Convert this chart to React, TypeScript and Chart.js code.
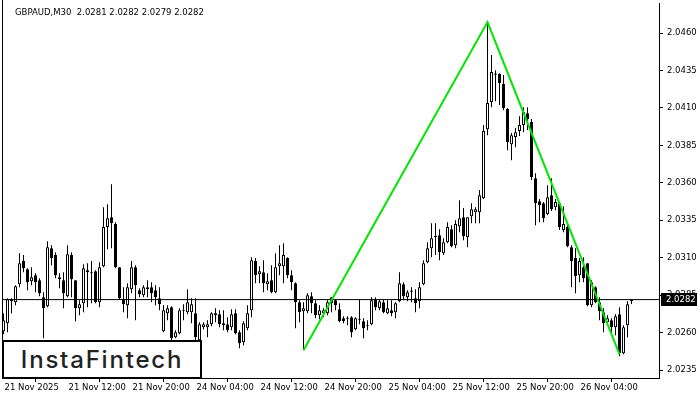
import { useEffect, useRef } from "react";
import { Chart, registerables } from "chart.js";

Chart.register(...registerables);

const symbolTitle = "GBPAUD,M30  2.0281 2.0282 2.0279 2.0282";
const logoText = "InstaFintech";

const xTickBars = [0, 16, 32, 48, 64, 80, 96, 112, 128, 144];
const xTickLabels = [
  "21 Nov 2025", "21 Nov 12:00", "21 Nov 20:00", "24 Nov 04:00", "24 Nov 12:00",
  "24 Nov 20:00", "25 Nov 04:00", "25 Nov 12:00", "25 Nov 20:00", "26 Nov 04:00",
];
const yTickValues = [2.0235, 2.026, 2.0285, 2.031, 2.0335, 2.036, 2.0385, 2.041, 2.0435, 2.046];

const opens = [
  2.02609, 2.02662, 2.02823, 2.02803, 2.02923, 2.03077, 2.03023, 2.02943, 2.02983, 2.0295,
  2.02836, 2.02776, 2.03163, 2.03117, 2.0297, 2.0295, 2.02843, 2.03117, 2.0295, 2.02763,
  2.02796, 2.03016, 2.02996, 2.0301, 2.02803, 2.03043, 2.03304, 2.0337, 2.03324, 2.03036,
  2.02823, 2.02783, 2.02889, 2.03036, 2.02883, 2.02849, 2.02903, 2.02903, 2.02883, 2.02829,
  2.02609, 2.02729, 2.02769, 2.02569, 2.02596, 2.02743, 2.02736, 2.02736, 2.02729, 2.02549,
  2.02636, 2.02636, 2.02656, 2.02729, 2.02722, 2.02662, 2.02656, 2.02636, 2.02729, 2.02602,
  2.02536, 2.02629, 2.02749, 2.03077, 2.0299, 2.03003, 2.02923, 2.0295, 2.02869, 2.03043,
  2.03043, 2.03097, 2.02983, 2.0293, 2.02803, 2.02743, 2.02743, 2.02843, 2.02796, 2.02716,
  2.02729, 2.02729, 2.02836, 2.02816, 2.02756, 2.02696, 2.02699, 2.02702, 2.02622, 2.02686,
  2.02676, 2.02649, 2.02656, 2.02823, 2.02763, 2.02803, 2.02729, 2.02749, 2.02736, 2.02809,
  2.02923, 2.02836, 2.02873, 2.02829, 2.02809, 2.02923, 2.0307, 2.03163, 2.03237, 2.0325,
  2.0313, 2.03203, 2.0329, 2.03183, 2.0331, 2.0337, 2.03237, 2.03377, 2.03404, 2.03404,
  2.03497, 2.03958, 2.04139, 2.04329, 2.04326, 2.04259, 2.04092, 2.03858, 2.03905, 2.03945,
  2.03985, 2.04065, 2.04005, 2.03631, 2.03477, 2.03464, 2.0339, 2.03517, 2.03437, 2.03464,
  2.03284, 2.03304, 2.0317, 2.03097, 2.02983, 2.03036, 2.03063, 2.02783, 2.02903, 2.02803,
  2.02736, 2.02669, 2.02682, 2.02636, 2.02722, 2.02462, 2.02649, 2.0281,
];
const highs = [
  2.02729, 2.02829, 2.02829, 2.02916, 2.0313, 2.03117, 2.0303, 2.03036, 2.02996, 2.02963,
  2.02869, 2.0321, 2.03183, 2.03137, 2.02996, 2.03003, 2.03183, 2.03137, 2.0295, 2.02816,
  2.03056, 2.03063, 2.03077, 2.03016, 2.0307, 2.03437, 2.03457, 2.03591, 2.03337, 2.03036,
  2.02903, 2.0293, 2.03077, 2.0305, 2.02896, 2.02916, 2.0295, 2.02936, 2.02916, 2.02903,
  2.02783, 2.02783, 2.02776, 2.02616, 2.02763, 2.02789, 2.02889, 2.02829, 2.02829, 2.02669,
  2.02669, 2.02682, 2.02736, 2.02763, 2.02749, 2.02749, 2.02702, 2.02756, 2.02756, 2.02616,
  2.02676, 2.02783, 2.03103, 2.03097, 2.03043, 2.03083, 2.02996, 2.0305, 2.0313, 2.03183,
  2.03197, 2.03103, 2.03016, 2.02936, 2.02816, 2.02803, 2.02863, 2.02869, 2.02816, 2.02783,
  2.02763, 2.02816, 2.02836, 2.02823, 2.02796, 2.02709, 2.02709, 2.02709, 2.02702, 2.02823,
  2.02696, 2.02682, 2.02836, 2.02836, 2.02823, 2.02823, 2.02816, 2.02816, 2.02803, 2.03003,
  2.02936, 2.02883, 2.02903, 2.02889, 2.02936, 2.03083, 2.03203, 2.0333, 2.0333, 2.0329,
  2.0323, 2.03337, 2.03317, 2.0335, 2.03484, 2.03431, 2.0337, 2.03464, 2.03437, 2.03551,
  2.03985, 2.04673, 2.04453, 2.04352, 2.04332, 2.04319, 2.04099, 2.03932, 2.03965, 2.04045,
  2.04105, 2.04105, 2.04025, 2.03664, 2.03491, 2.03471, 2.03584, 2.03631, 2.03491, 2.03471,
  2.03444, 2.03337, 2.03183, 2.03163, 2.03097, 2.03103, 2.03063, 2.0295, 2.0291, 2.02836,
  2.02763, 2.02716, 2.02696, 2.02722, 2.02769, 2.02649, 2.02809, 2.0282,
];
const lows = [
  2.02589, 2.02602, 2.02729, 2.02783, 2.02903, 2.03003, 2.02883, 2.02916, 2.02869, 2.02843,
  2.02562, 2.02769, 2.0305, 2.02963, 2.02896, 2.02763, 2.02836, 2.02836, 2.02676, 2.02716,
  2.02736, 2.02769, 2.02796, 2.02796, 2.02769, 2.03036, 2.03157, 2.03163, 2.0303, 2.02823,
  2.02736, 2.02696, 2.02863, 2.02682, 2.02836, 2.02836, 2.02836, 2.02803, 2.02783, 2.02749,
  2.02602, 2.02682, 2.02549, 2.02562, 2.02589, 2.02682, 2.02722, 2.02662, 2.02549, 2.02542,
  2.02622, 2.02569, 2.02642, 2.02669, 2.02636, 2.02616, 2.02602, 2.02616, 2.02589, 2.02496,
  2.02516, 2.02616, 2.02702, 2.0293, 2.0293, 2.02869, 2.02883, 2.02863, 2.02863, 2.02983,
  2.0293, 2.02963, 2.02883, 2.02629, 2.02669, 2.02482, 2.02729, 2.02729, 2.02696, 2.02689,
  2.02702, 2.02716, 2.02736, 2.02749, 2.02669, 2.02662, 2.02649, 2.02569, 2.02616, 2.02656,
  2.02562, 2.02616, 2.02649, 2.02749, 2.02749, 2.02729, 2.02722, 2.02709, 2.02696, 2.02803,
  2.02816, 2.02809, 2.02803, 2.02736, 2.02763, 2.02916, 2.03063, 2.03103, 2.03117, 2.03083,
  2.03117, 2.03197, 2.0317, 2.03163, 2.0327, 2.03217, 2.0317, 2.0333, 2.0333, 2.0333,
  2.03491, 2.03918, 2.04105, 2.04145, 2.04119, 2.04085, 2.03818, 2.03751, 2.03838, 2.03912,
  2.03938, 2.03952, 2.03618, 2.03317, 2.03337, 2.03337, 2.03384, 2.03411, 2.03417, 2.03284,
  2.0327, 2.0317, 2.02903, 2.02863, 2.02936, 2.02936, 2.02776, 2.02769, 2.02796, 2.02682,
  2.02602, 2.02656, 2.02582, 2.02582, 2.02442, 2.02455, 2.02569, 2.0279,
];
const closes = [
  2.02682, 2.02823, 2.02809, 2.0291, 2.03063, 2.0303, 2.02936, 2.0297, 2.02936, 2.02863,
  2.02763, 2.0317, 2.03097, 2.02983, 2.02956, 2.02863, 2.03123, 2.02956, 2.02763, 2.02789,
  2.0303, 2.03003, 2.03003, 2.02803, 2.03036, 2.03304, 2.03364, 2.0333, 2.03036, 2.02829,
  2.02789, 2.02903, 2.03036, 2.02916, 2.02856, 2.02903, 2.02889, 2.02863, 2.02836, 2.02789,
  2.02749, 2.02763, 2.02562, 2.02602, 2.02749, 2.02749, 2.02803, 2.02789, 2.02569, 2.02656,
  2.02656, 2.02656, 2.02729, 2.02716, 2.02656, 2.02649, 2.02616, 2.02722, 2.02596, 2.02529,
  2.02662, 2.02729, 2.03083, 2.02983, 2.0301, 2.0293, 2.02943, 2.02869, 2.03036, 2.03063,
  2.03117, 2.02983, 2.02936, 2.02803, 2.02736, 2.02763, 2.02849, 2.02796, 2.02716, 2.02749,
  2.02749, 2.02803, 2.02796, 2.02783, 2.02676, 2.02676, 2.02692, 2.02602, 2.02696, 2.02693,
  2.02629, 2.02642, 2.02816, 2.02769, 2.02809, 2.02736, 2.02763, 2.02729, 2.02796, 2.0293,
  2.02843, 2.02869, 2.0288, 2.02796, 2.02903, 2.03063, 2.03163, 2.0323, 2.03244, 2.03137,
  2.03203, 2.03304, 2.03177, 2.03324, 2.03364, 2.03244, 2.0337, 2.03424, 2.03424, 2.03517,
  2.03945, 2.04132, 2.04339, 2.04322, 2.04266, 2.04099, 2.03871, 2.03918, 2.03938, 2.03985,
  2.04072, 2.04025, 2.03638, 2.03464, 2.03451, 2.03364, 2.03504, 2.03424, 2.03471, 2.03304,
  2.03324, 2.03177, 2.03077, 2.02976, 2.03077, 2.02963, 2.02783, 2.02936, 2.02803, 2.02743,
  2.02662, 2.02696, 2.02636, 2.02709, 2.02462, 2.02636, 2.02789, 2.0282,
];

const patternBars = [75, 121, 154];
const patternPrices = [2.02482, 2.04673, 2.02455];

// visible ranges of the axes
const xMin = -0.375;
const xMax = 163.875;
const yMin = 2.022966;
const yMax = 2.048003;

const FONT = "'DejaVu Sans', Verdana, sans-serif";

export default function App() {
  const canvasRef = useRef<HTMLCanvasElement | null>(null);

  useEffect(() => {
    const canvas = canvasRef.current;
    if (!canvas) return;
    const idx = opens.map((_, i) => i);
    const lastClose = closes[closes.length - 1];
    const bodyColors = idx.map((i) => (closes[i] >= opens[i] ? "#ffffff" : "#000000"));

    const framePlugin = {
      id: "frame",
      afterDraw(chart: any) {
        const { ctx, chartArea } = chart;
        const yScale = chart.scales.y;
        ctx.save();
        ctx.strokeStyle = "#000";
        ctx.lineWidth = 1;
        ctx.beginPath();
        const lx = Math.round(chartArea.left) + 0.5;
        ctx.moveTo(lx, 0);
        ctx.lineTo(lx, chartArea.bottom);
        ctx.stroke();
        // price tag
        const py = yScale.getPixelForValue(lastClose);
        ctx.fillStyle = "#000";
        ctx.fillRect(chartArea.right + 2, Math.round(py) - 7, 36, 13);
        ctx.fillStyle = "#fff";
        ctx.font = `8.5px ${FONT}`;
        ctx.textBaseline = "middle";
        ctx.textAlign = "left";
        ctx.fillText(lastClose.toFixed(4), chartArea.right + 7, Math.round(py) - 0.5);
        ctx.restore();
      },
    };

    const chart = new Chart(canvas, {
      type: "bar",
      data: {
        datasets: [
          {
            type: "line",
            data: patternBars.map((b, k) => ({ x: b, y: patternPrices[k] })),
            borderColor: "#00e600",
            borderWidth: 2,
            pointRadius: 0,
            fill: false,
            order: -1,
          } as any,
          {
            type: "line",
            data: [
              { x: xMin, y: lastClose },
              { x: xMax, y: lastClose },
            ],
            borderColor: "#000000",
            borderWidth: 1,
            pointRadius: 0,
            fill: false,
            order: 0,
          } as any,
          {
            type: "bar",
            data: idx.map((i) => ({ x: i, y: [opens[i], closes[i]] })),
            backgroundColor: bodyColors,
            borderColor: "#000000",
            borderWidth: 1,
            borderSkipped: false,
            barThickness: 3,
            grouped: false,
            inflateAmount: 0,
            order: 1,
          } as any,
          {
            type: "bar",
            data: idx.map((i) => ({ x: i, y: [lows[i], highs[i]] })),
            backgroundColor: "#000000",
            borderWidth: 0,
            barThickness: 1,
            grouped: false,
            inflateAmount: 0,
            order: 2,
          } as any,
        ],
      },
      options: {
        responsive: false,
        animation: false,
        events: [],
        layout: { padding: { left: 2, top: 3, right: 0, bottom: 0 } },
        plugins: { legend: { display: false }, tooltip: { enabled: false }, title: { display: false } },
        scales: {
          x: {
            type: "linear",
            min: xMin,
            max: xMax,
            offset: false,
            grid: { drawOnChartArea: false, drawTicks: true, tickLength: 4, color: "#000" },
            border: { display: true, color: "#000", width: 1 },
            ticks: {
              autoSkip: false,
              maxRotation: 0,
              minRotation: 0,
              align: "start",
              labelOffset: 1,
              padding: 1,
              color: "#000",
              font: { family: FONT, size: 8.5 },
              callback: (v: any) => {
                const k = xTickBars.indexOf(Number(v));
                return k >= 0 ? xTickLabels[k] : "";
              },
            },
            afterBuildTicks: (s: any) => {
              s.ticks = xTickBars.map((v) => ({ value: v }));
            },
            afterFit: (s: any) => {
              s.height = 22;
              s.paddingLeft = 0;
              s.paddingRight = 0;
            },
          } as any,
          y: {
            type: "linear",
            position: "right",
            min: yMin,
            max: yMax,
            grid: { drawOnChartArea: false, drawTicks: true, tickLength: 4, color: "#000" },
            border: { display: true, color: "#000", width: 1 },
            ticks: {
              autoSkip: false,
              padding: 4,
              color: "#000",
              font: { family: FONT, size: 8.5 },
              callback: (v: any) => Number(v).toFixed(4),
            },
            afterBuildTicks: (s: any) => {
              s.ticks = yTickValues.map((v) => ({ value: v }));
            },
            afterFit: (s: any) => {
              s.width = 41;
              s.paddingTop = 0;
              s.paddingBottom = 0;
            },
          } as any,
        },
      },
      plugins: [framePlugin],
    });
    return () => chart.destroy();
  }, []);

  return (
    <div style={{ position: "absolute", left: 0, top: 0, width: 700, height: 400, background: "#fff", overflow: "hidden" }}>
      <canvas ref={canvasRef} width={700} height={400} style={{ position: "absolute", left: 0, top: 0 }} />
      <div
        style={{
          position: "absolute",
          left: 15,
          top: 6,
          font: `8.5px ${FONT}`,
          lineHeight: "12px",
          color: "#000",
          whiteSpace: "pre",
        }}
      >
        {symbolTitle}
      </div>
      <div
        style={{
          position: "absolute",
          left: 2,
          top: 340,
          width: 200,
          height: 39,
          boxSizing: "border-box",
          border: "2.5px solid #000",
          background: "#fff",
          display: "flex",
          alignItems: "center",
          justifyContent: "center",
          fontFamily: "Inter, 'Noto Sans', sans-serif",
          fontSize: 24,
          fontWeight: 500,
          letterSpacing: 1.8,
          color: "#222",
        }}
      >
        {logoText}
      </div>
    </div>
  );
}
